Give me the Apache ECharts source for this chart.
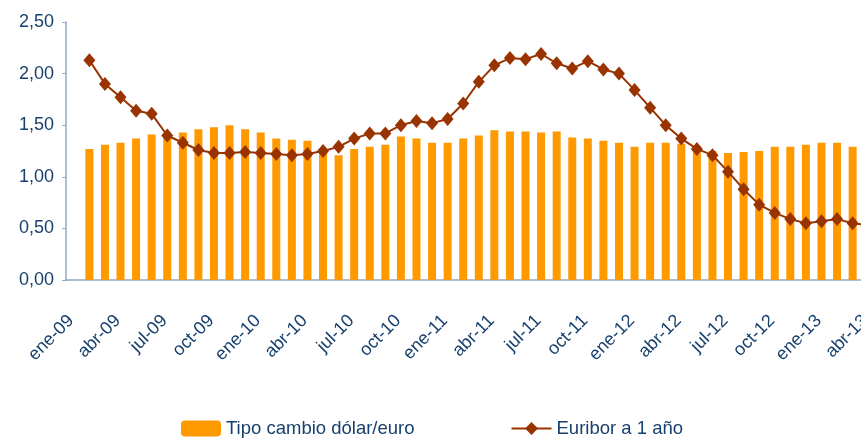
<!DOCTYPE html>
<html>
<head>
<meta charset="utf-8">
<script src="https://cdn.jsdelivr.net/npm/echarts@6/dist/echarts.min.js"></script>
<style>
  html, body { margin: 0; padding: 0; background: #fff; }
  #chart { width: 861px; height: 440px; }
</style>
</head>
<body>
<div id="chart"></div>
<script>
// month names and years for the category axis
var monthNames = ['ene', 'feb', 'mar', 'abr', 'may', 'jun', 'jul', 'ago', 'sep', 'oct', 'nov', 'dic'];
var years = ['09', '10', '11', '12', '13'];

// tipo de cambio dolar/euro (barras), ene-09 .. abr-13
var tipoCambio = [null, 1.27, 1.31, 1.33, 1.37, 1.41, 1.41, 1.43, 1.46, 1.48, 1.50, 1.46,
    1.43, 1.37, 1.36, 1.35, 1.26, 1.21, 1.27, 1.29, 1.31, 1.39, 1.37, 1.33,
    1.33, 1.37, 1.40, 1.45, 1.44, 1.44, 1.43, 1.44, 1.38, 1.37, 1.35, 1.33,
    1.29, 1.33, 1.33, 1.32, 1.28, 1.25, 1.23, 1.24, 1.25, 1.29, 1.29, 1.31,
    1.33, 1.33, 1.29, null];

// euribor a 1 año (linea), ene-09 .. abr-13
var euribor = [null, 2.13, 1.90, 1.77, 1.64, 1.61, 1.40, 1.33, 1.26, 1.23, 1.23, 1.24,
    1.23, 1.22, 1.21, 1.22, 1.25, 1.29, 1.37, 1.42, 1.42, 1.50, 1.54, 1.52,
    1.56, 1.71, 1.92, 2.08, 2.15, 2.14, 2.19, 2.10, 2.05, 2.12, 2.04, 2.00,
    1.84, 1.67, 1.50, 1.37, 1.27, 1.21, 1.05, 0.88, 0.73, 0.65, 0.59, 0.55,
    0.57, 0.59, 0.55, 0.53];

var months = [];
years.forEach(function (y) {
    monthNames.forEach(function (m) { months.push(m + '-' + y); });
});
var categories = months.slice(0, 52);   // one slot per month
var boundaries = months.slice(0, 53);   // month starts, used for the labels

var navy = '#17406D';
var axisColor = '#8FA8C6';
var font = '"Liberation Sans", Arial, sans-serif';

var chart = echarts.init(document.getElementById('chart'));
var option = {
    animation: false,
    legend: {
        left: 181,
        top: 419,
        padding: 0,
        itemWidth: 40,
        itemHeight: 16,
        itemGap: 96,
        textStyle: { color: navy, fontFamily: font, fontSize: 18.5 },
        data: ['Tipo cambio dólar/euro', 'Euribor a 1 año']
    },
    // the plot runs past the right edge, as in the cropped original
    grid: [
        { left: 66, top: 22, bottom: 160, width: 810, outerBoundsMode: 'none' },
        { left: 71, top: 22, bottom: 160, width: 810, outerBoundsMode: 'none' }
    ],
    xAxis: [
        {
            type: 'category',
            gridIndex: 0,
            data: categories,
            boundaryGap: true,
            axisLine: { lineStyle: { color: axisColor, width: 1.5 } },
            axisTick: { interval: 2, length: 5, lineStyle: { color: axisColor } },
            axisLabel: { show: false }
        },
        {
            type: 'category',
            gridIndex: 1,
            data: boundaries,
            boundaryGap: false,
            axisLine: { show: false },
            axisTick: { show: false },
            axisLabel: {
                interval: 2,
                rotate: 45,
                margin: 38,
                color: navy,
                fontFamily: font,
                fontSize: 18
            }
        }
    ],
    yAxis: [
        {
            type: 'value',
            gridIndex: 0,
            min: 0,
            max: 2.5,
            interval: 0.5,
            axisLine: { show: true, lineStyle: { color: axisColor, width: 1.5 } },
            axisTick: { show: true, length: 4, lineStyle: { color: axisColor } },
            splitLine: { show: false },
            axisLabel: {
                margin: 12,
                color: navy,
                fontFamily: font,
                fontSize: 18,
                formatter: function (v) { return v.toFixed(2).replace('.', ','); }
            }
        },
        {
            type: 'value',
            gridIndex: 1,
            min: 0,
            max: 2.5,
            show: false
        }
    ],
    series: [
        {
            name: 'Tipo cambio dólar/euro',
            type: 'bar',
            xAxisIndex: 0,
            yAxisIndex: 0,
            barWidth: 8,
            itemStyle: { color: '#FF9900' },
            data: tipoCambio
        },
        {
            name: 'Euribor a 1 año',
            type: 'line',
            xAxisIndex: 0,
            yAxisIndex: 0,
            symbol: 'diamond',
            symbolSize: [12, 14],
            showSymbol: true,
            showAllSymbol: true,
            lineStyle: { color: '#993300', width: 2 },
            itemStyle: { color: '#993300' },
            data: euribor
        }
    ]
};
chart.setOption(option);
</script>
</body>
</html>
